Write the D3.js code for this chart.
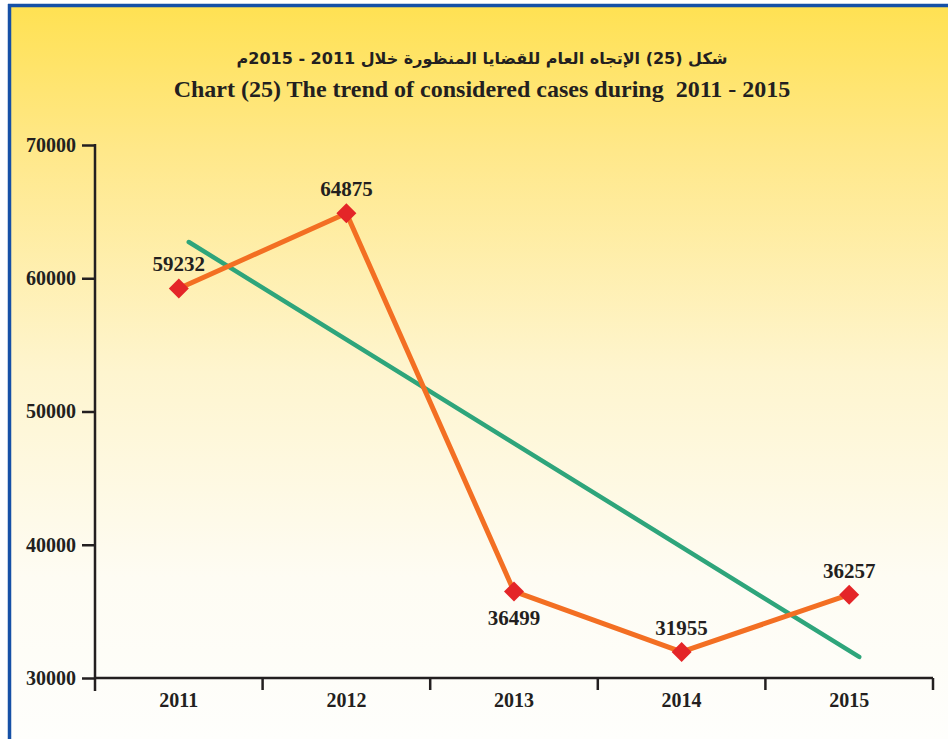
<!DOCTYPE html>
<html>
<head>
<meta charset="utf-8">
<script src="https://cdn.jsdelivr.net/npm/d3@7"></script>
<style>
  html, body { margin: 0; padding: 0; background: #fff; }
  #chart { width: 948px; height: 739px; }
</style>
</head>
<body>
<div id="chart"></div>
<script>
const years = ["2011", "2012", "2013", "2014", "2015"];
const cases = [59232, 64875, 36499, 31955, 36257];
const labelBelow = [false, false, true, false, false];
// trend line (value at first and last year)
const trendYears = ["2011", "2015"];
const trendValues = [62720, 31580];
const yTicks = [30000, 40000, 50000, 60000, 70000];
const titleAr = "شكل (25) الإتجاه العام للقضايا المنظورة خلال 2011 - 2015م";
const titleEn = "Chart (25) The trend of considered cases during  2011 - 2015";

const width = 948;
const height = 739;
const margin = { top: 145, right: 15, bottom: 61, left: 95 };

const svg = d3
  .select("#chart")
  .append("svg")
  .attr("width", width)
  .attr("height", height);

// background gradient
const defs = svg.append("defs");
const grad = defs
  .append("linearGradient")
  .attr("id", "bg")
  .attr("x1", 0)
  .attr("y1", 0)
  .attr("x2", 0)
  .attr("y2", 1);
grad.append("stop").attr("offset", "0%").attr("stop-color", "#ffe152");
grad.append("stop").attr("offset", "20%").attr("stop-color", "#ffe88a");
grad.append("stop").attr("offset", "50%").attr("stop-color", "#fef5cf");
grad.append("stop").attr("offset", "78%").attr("stop-color", "#fefcf3");
grad.append("stop").attr("offset", "100%").attr("stop-color", "#fefefc");

svg
  .append("rect")
  .attr("x", 9)
  .attr("y", 5)
  .attr("width", width - 9)
  .attr("height", height - 5)
  .attr("fill", "url(#bg)");

// blue frame (top and left)
svg
  .append("line")
  .attr("x1", 8)
  .attr("x2", width)
  .attr("y1", 5.5)
  .attr("y2", 5.5)
  .attr("stroke", "#1650a6")
  .attr("stroke-width", 3.5);
svg
  .append("line")
  .attr("x1", 9.5)
  .attr("x2", 9.5)
  .attr("y1", 4)
  .attr("y2", height)
  .attr("stroke", "#1650a6")
  .attr("stroke-width", 3.5);

// titles
svg
  .append("text")
  .attr("x", 482)
  .attr("y", 64)
  .attr("text-anchor", "middle")
  .attr("direction", "rtl")
  .attr("font-family", "'DejaVu Sans', 'Noto Sans', sans-serif")
  .attr("font-weight", "bold")
  .attr("font-size", 16)
  .attr("fill", "#231f20")
  .text(titleAr);

svg
  .append("text")
  .attr("x", 482)
  .attr("y", 97)
  .attr("text-anchor", "middle")
  .attr("font-family", "'Liberation Serif', 'Times New Roman', serif")
  .attr("font-weight", "bold")
  .attr("font-size", 24)
  .attr("fill", "#231f20")
  .style("white-space", "pre")
  .text(titleEn);

// scales
const x = d3
  .scaleBand()
  .domain(years)
  .range([margin.left, width - margin.right]);

const y = d3
  .scaleLinear()
  .domain([30000, 70000])
  .range([height - margin.bottom, margin.top]);

const cx = (d) => x(d) + x.bandwidth() / 2;

// y axis
const yAxis = svg
  .append("g")
  .attr("transform", `translate(${margin.left},0)`)
  .call(d3.axisLeft(y).tickValues(yTicks).tickSize(13).tickPadding(6).tickFormat(d3.format("d")));
yAxis.select(".domain").remove();
yAxis
  .append("line")
  .attr("x1", 0)
  .attr("x2", 0)
  .attr("y1", y(70000) - 1)
  .attr("y2", y(30000) + 13)
  .attr("stroke", "#231f20")
  .attr("stroke-width", 2.5);
yAxis.selectAll(".tick line").attr("stroke", "#231f20").attr("stroke-width", 2.5);
yAxis
  .selectAll(".tick text")
  .attr("font-family", "'Liberation Serif', 'Times New Roman', serif")
  .attr("font-weight", "bold")
  .attr("font-size", 20)
  .attr("fill", "#231f20");

// x axis
const xAxis = svg
  .append("g")
  .attr("transform", `translate(0,${y(30000)})`)
  .call(d3.axisBottom(x).tickSize(0).tickPadding(15));
xAxis.select(".domain").remove();
xAxis
  .append("line")
  .attr("x1", margin.left)
  .attr("x2", width - margin.right)
  .attr("stroke", "#231f20")
  .attr("stroke-width", 2.5);
xAxis
  .selectAll(".sep")
  .data(years.slice(1).concat(["end"]))
  .enter()
  .append("line")
  .attr("x1", (d) => (d === "end" ? width - margin.right : x(d)))
  .attr("x2", (d) => (d === "end" ? width - margin.right : x(d)))
  .attr("y1", 0)
  .attr("y2", 12)
  .attr("stroke", "#231f20")
  .attr("stroke-width", 2.5);
xAxis
  .selectAll(".tick text")
  .attr("font-family", "'Liberation Serif', 'Times New Roman', serif")
  .attr("font-weight", "bold")
  .attr("font-size", 20)
  .attr("fill", "#231f20");

// trend line
const trendShift = 10;
svg
  .append("path")
  .datum(trendYears.map((d, i) => [cx(d) + trendShift, y(trendValues[i])]))
  .attr("d", d3.line())
  .attr("fill", "none")
  .attr("stroke", "#2ea57b")
  .attr("stroke-width", 4.5)
  .attr("stroke-linecap", "round");

// data line
svg
  .append("path")
  .datum(years.map((d, i) => [cx(d), y(cases[i])]))
  .attr("d", d3.line())
  .attr("fill", "none")
  .attr("stroke", "#f36f23")
  .attr("stroke-width", 5)
  .attr("stroke-linejoin", "round");

// diamond markers
svg
  .append("g")
  .selectAll("path")
  .data(years)
  .enter()
  .append("path")
  .attr("transform", (d, i) => `translate(${cx(d)},${y(cases[i])}) rotate(45)`)
  .attr("d", d3.symbol(d3.symbolSquare, 200)())
  .attr("fill", "#e42528");

// value labels
svg
  .append("g")
  .selectAll("text")
  .data(years)
  .enter()
  .append("text")
  .attr("x", (d) => cx(d))
  .attr("y", (d, i) => y(cases[i]) + (labelBelow[i] ? 34 : -17))
  .attr("text-anchor", "middle")
  .attr("font-family", "'Liberation Serif', 'Times New Roman', serif")
  .attr("font-weight", "bold")
  .attr("font-size", 21)
  .attr("fill", "#231f20")
  .text((d, i) => cases[i]);
</script>
</body>
</html>
